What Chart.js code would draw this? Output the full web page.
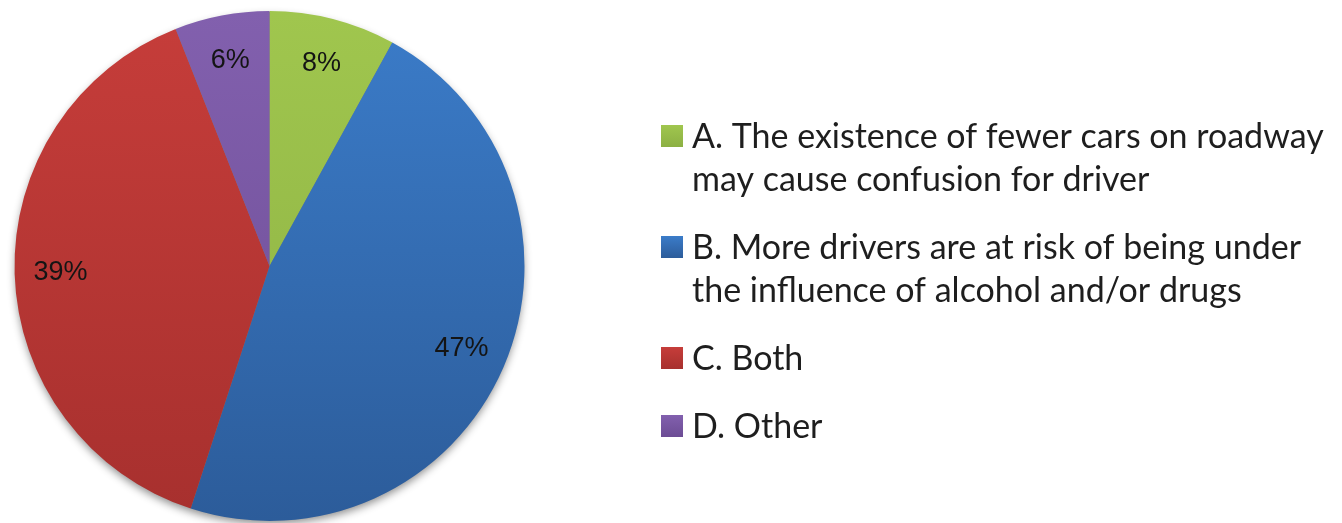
<!DOCTYPE html>
<html>
<head>
<meta charset="utf-8">
<script src="https://cdn.jsdelivr.net/npm/chart.js@4.4.1/dist/chart.umd.min.js"></script>
<style>
  html, body { margin: 0; padding: 0; background: #ffffff; }
  #wrap { position: relative; width: 1342px; height: 523px; }
</style>
</head>
<body>
<div id="wrap"><canvas id="pie" width="1342" height="523"></canvas></div>
<script>
// Survey answers and their shares (%)
const categories = ['A', 'B', 'C', 'D'];
const legendLines = [
  ['A. The existence of fewer cars on roadway', 'may cause confusion for driver'],
  ['B. More drivers are at risk of being under', 'the influence of alcohol and/or drugs'],
  ['C. Both'],
  ['D. Other']
];
const shares = [8, 47, 39, 6];

// Slice colours: lighter at the top, deeper toward the bottom
const topColors = ['#a0c64e', '#3b7cc9', '#c63d3a', '#8260ae'];
const bottomColors = ['#8cb043', '#2c5c9a', '#a7302e', '#6c4c94'];

function sliceFill(ctx) {
  const i = ctx.dataIndex;
  const area = ctx.chart.chartArea;
  if (!area) return topColors[i];
  const g = ctx.chart.ctx.createLinearGradient(0, area.top, 0, area.bottom);
  g.addColorStop(0, topColors[i]);
  g.addColorStop(1, bottomColors[i]);
  return g;
}

// Soft drop shadow under the disc
const discShadow = {
  id: 'discShadow',
  beforeDatasetsDraw(chart) {
    const arc = chart.getDatasetMeta(0).data[0];
    if (!arc) return;
    const c = chart.ctx;
    c.save();
    c.shadowColor = 'rgba(0,0,0,0.45)';
    c.shadowBlur = 9;
    c.shadowOffsetY = 4;
    c.fillStyle = '#7a7a7a';
    c.beginPath();
    c.arc(arc.x, arc.y, arc.outerRadius - 1, 0, Math.PI * 2);
    c.fill();
    c.restore();
  }
};

// Percentage labels inside each slice
const sliceLabels = {
  id: 'sliceLabels',
  afterDatasetsDraw(chart) {
    const c = chart.ctx;
    const meta = chart.getDatasetMeta(0);
    c.save();
    c.font = '27px "Liberation Sans", Arial, sans-serif';
    c.fillStyle = '#141414';
    c.textAlign = 'center';
    c.textBaseline = 'middle';
    meta.data.forEach((arc, i) => {
      const mid = (arc.startAngle + arc.endAngle) / 2;
      const r = arc.outerRadius * 0.82;
      c.fillText(shares[i] + '%', arc.x + Math.cos(mid) * r, arc.y + Math.sin(mid) * r);
    });
    c.restore();
  }
};

// Legend block to the right of the pie
const sideLegend = {
  id: 'sideLegend',
  afterDraw(chart) {
    const c = chart.ctx;
    const x0 = 661, box = 22, textX = 692;
    const lineH = 43, itemGap = 25;
    const font = '34px Lato, "Open Sans", sans-serif';
    c.save();
    c.font = font;
    // condense the type so the widest line spans the legend column
    const widest = Math.max(...legendLines.flat().map(t => c.measureText(t).width));
    const sx = Math.min(1, 641 / widest);
    let base = 148;
    legendLines.forEach((lines, i) => {
      const g = c.createLinearGradient(0, base - 23, 0, base - 1);
      g.addColorStop(0, topColors[i]);
      g.addColorStop(1, bottomColors[i]);
      c.fillStyle = g;
      c.fillRect(x0, base - 23, box, box);
      c.fillStyle = '#1e1e1e';
      c.textBaseline = 'alphabetic';
      c.textAlign = 'left';
      lines.forEach((t, k) => {
        c.save();
        c.translate(textX, base + k * lineH);
        c.scale(sx, 1);
        c.fillText(t, 0, 0);
        c.restore();
      });
      base += lines.length * lineH + itemGap - (lines.length - 1) * 0 ;
    });
    c.restore();
  }
};

new Chart(document.getElementById('pie'), {
  type: 'pie',
  data: {
    labels: categories,
    datasets: [{
      data: shares,
      backgroundColor: sliceFill,
      borderWidth: 0
    }]
  },
  options: {
    responsive: false,
    animation: false,
    events: [],
    layout: { padding: { left: 14, top: 11, bottom: 2, right: 817 } },
    plugins: {
      legend: { display: false },
      tooltip: { enabled: false }
    }
  },
  plugins: [discShadow, sliceLabels, sideLegend]
});
</script>
</body>
</html>
